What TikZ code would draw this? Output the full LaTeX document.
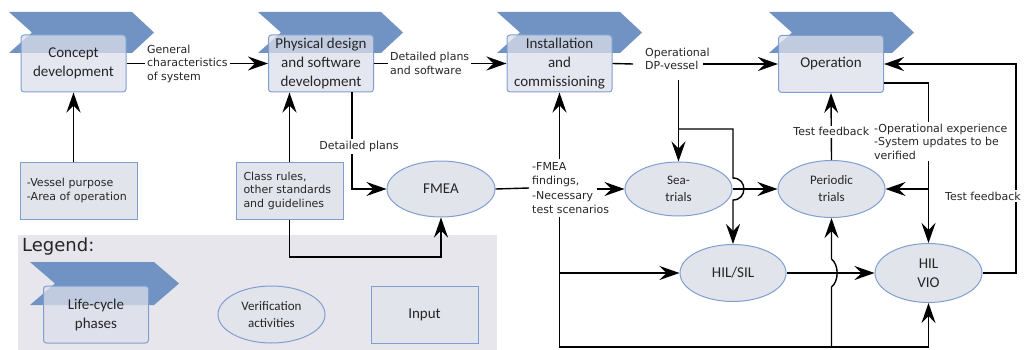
\documentclass[tikz,border=0pt]{standalone}
\usepackage{fontspec}
\setmainfont{DejaVu Sans}
\newfontfamily\carl{Carlito}
\usetikzlibrary{arrows.meta,shapes.geometric}
\definecolor{chev}{HTML}{7193C3}
\definecolor{boxfill}{HTML}{DCDFEB}
\definecolor{boxline}{HTML}{7F9FD0}
\definecolor{ellfill}{HTML}{E2E4EC}
\definecolor{legbg}{HTML}{E6E6EC}
\definecolor{txt}{HTML}{262626}
\begin{document}
\begin{tikzpicture}[x=1pt,y=-1pt,
  phase/.style={draw=boxline, line width=1pt, rounded corners=3pt, fill=boxfill, fill opacity=0.75, text opacity=1,
    minimum width=105pt, minimum height=57pt, inner sep=0pt, align=center, text=txt,
    font=\carl\fontsize{15}{19}\selectfont},
  inp/.style={draw=boxline, line width=1pt, fill=ellfill, minimum height=57pt, inner sep=7pt,
    align=left, text=txt, font=\fontsize{11}{13.5}\selectfont},
  ell/.style={ellipse, draw=boxline, line width=1pt, fill=ellfill, inner sep=0pt, align=center, text=txt,
    font=\carl\fontsize{15}{19}\selectfont},
  smalltxt/.style={font=\carl\fontsize{13}{17}\selectfont},
  lab/.style={align=left, text=txt, inner sep=2pt, font=\fontsize{11}{13.5}\selectfont},
  conn/.style={line width=1.4pt, draw=black},
  arr/.style={conn, -{Stealth[length=20pt,width=14pt,inset=7pt]}},
  chevshape/.style={fill=chev}
]
\useasboundingbox (0,0) rectangle (1024,350);

% legend background
\fill[legbg] (18,235) rectangle (497,350);
\node[anchor=west, text=txt, inner sep=0pt, font=\fontsize{18}{20}\selectfont] (legt) at (22,247) {Legend:};

% chevrons
\fill[chevshape] (9,12) -- (132,12) -- (154,32.5) -- (132,53) -- (9,53) -- (32,32.5) -- cycle;
\fill[chevshape] (258,12) -- (381,12) -- (403,32.5) -- (381,53) -- (258,53) -- (281,32.5) -- cycle;
\fill[chevshape] (497,12) -- (620,12) -- (642,32.5) -- (620,53) -- (497,53) -- (520,32.5) -- cycle;
\fill[chevshape] (769,12) -- (892,12) -- (914,32.5) -- (892,53) -- (769,53) -- (792,32.5) -- cycle;
\fill[chevshape] (30,262) -- (154,262) -- (179,283.5) -- (154,305) -- (30,305) -- (55,283.5) -- cycle;

% phases
\node[phase] (c1) at (73.5,63.5) {Concept\\development};
\node[phase] (c2) at (321,63.5) {Physical design\\and software\\development};
\node[phase] (c3) at (559.5,63.5) {Installation\\and\\commissioning};
\node[phase] (c4) at (831,64) {Operation};

% inputs
\node[inp, minimum width=117pt, text width=103pt] (in1) at (78.5,190.5) {-Vessel purpose\\-Area of operation};
\node[inp, minimum width=107pt, text width=92pt, inner sep=7.5pt] (in2) at (289.5,190.5) {Class rules,\\other standards\\and guidelines};

% verification activities
\node[ell, minimum width=108pt, minimum height=56pt] (fmea) at (441,189) {FMEA};
\node[ell, smalltxt, minimum width=107pt, minimum height=54pt] (sea) at (678.5,189) {Sea-\\trials};
\node[ell, smalltxt, minimum width=107pt, minimum height=57pt] (per) at (831.5,189) {Periodic\\trials};
\node[ell, minimum width=106pt, minimum height=57pt] (hil) at (733,273) {HIL/SIL};
\node[ell, minimum width=107pt, minimum height=59pt] (vio) at (928.5,273) {HIL\\VIO};

% legend items
\node[phase] (lg1) at (96,314.5) {Life-cycle\\phases};
\node[ell, smalltxt, minimum width=107pt, minimum height=57pt] (lg2) at (271.5,314.5) {Verification\\activities};
\node[inp, minimum width=107pt, align=center, font=\carl\fontsize{15}{19}\selectfont] (lg3) at (424.5,314.5) {Input};

% helper coordinates
\coordinate (lb) at (0,257);
\coordinate (bot) at (0,347);
\coordinate (rx) at (1016,0);
\coordinate (p3a) at (633,64);
\coordinate (p3b) at (703,64);
\coordinate (v3) at (678.5,80);
\coordinate (b1) at (678.5,129);
\coordinate (b2) at (733,129);
\coordinate (n4) at (597,189);

% top row connectors
\draw[arr] (c1.east) -- node[lab, fill=white, pos=0.43] {General\\characteristics\\of system} (c2.west);
\draw[arr] (c2.east) -- node[lab, fill=white, pos=0.42] {Detailed plans\\and software} (c3.west);
\node[lab, anchor=west] (lab3) at (643,59) {Operational\\DP-vessel};
\draw[conn] (c3.east) -- (p3a);
\draw[arr] (p3b) -- (c4.west);

% inputs to phases
\draw[arr] (c1.south |- in1.north) -- (c1.south);
\draw[arr] (in2.north) -- (in2.north |- c2.south);
\draw[arr] (in2.south) -- (in2.south |- lb) -| (fmea.south);
\draw[arr] ([xshift=31pt]c2.south) |- node[lab, fill=white, pos=0.28, xshift=7pt] {Detailed plans} (fmea.west);

% FMEA outputs
\node[lab, anchor=west, inner sep=3pt, font=\fontsize{11}{14.2}\selectfont] (lab4) at (529,188) {-FMEA\\findings,\\-Necessary\\test scenarios};
\draw[conn] (fmea.east) -- (lab4.west);
\draw[arr] (n4) -- (sea.west);
\draw[arr] (c3.south |- lab4.north) -- (c3.south);
\draw[arr] (c3.south |- lab4.south) -- (c3.south |- bot) -| (vio.south);
\draw[arr] (c3.south |- hil.west) -- (hil.west);

% sea-trials branch
\draw[arr] (v3) -- (sea.north);
\draw[arr] (b1) -- (b2) -- (733,178) .. controls (747.5,178) and (747.5,200) .. (733,200) -- (hil.north);
\draw[arr] (sea.east) -- (per.west);

% HIL
\draw[arr] (hil.east) -- (vio.west);
\draw[arr] (per.south |- bot) -- (831.5,287) .. controls (839,281) and (839,265) .. (831.5,259) -- (per.south);

% operation feedback
\draw[arr] (per.north) -- node[lab, fill=white, pos=0.42] {Test feedback} (c4.south);
\draw[arr] (vio.east) -- (vio.east -| rx) |- (c4.east);
\node[lab, fill=white] (lab5) at (983,196) {Test feedback};
\draw[arr] ([yshift=-19pt]c4.east) -| (vio.north);
\draw[arr] (vio.north |- per.east) -- (per.east);
\node[lab, fill=white, anchor=west] (lab6) at (872,141.5) {-Operational experience\\-System updates to be\\verified};
\end{tikzpicture}
\end{document}
